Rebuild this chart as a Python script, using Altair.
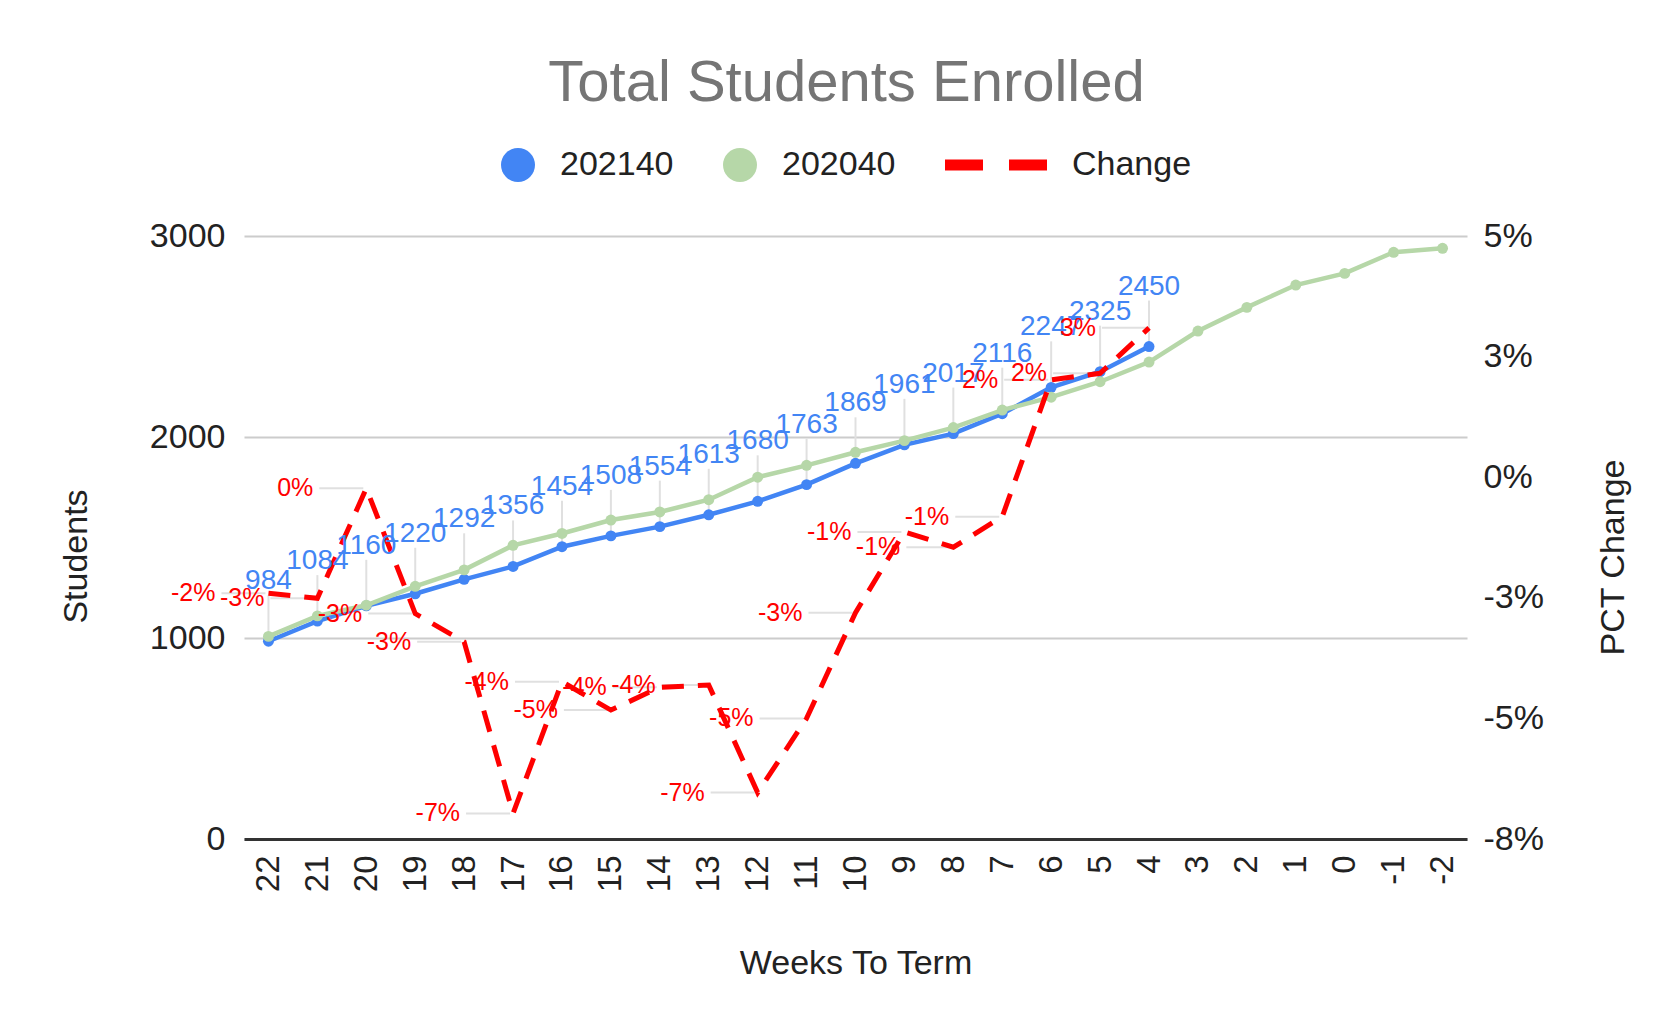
import altair as alt
import pandas as pd

FONT = "Arial, Liberation Sans, sans-serif"

weeks = ["22", "21", "20", "19", "18", "17", "16", "15", "14", "13", "12", "11", "10",
         "9", "8", "7", "6", "5", "4", "3", "2", "1", "0", "-1", "-2"]
students_202140 = [984, 1084, 1160, 1220, 1292, 1356, 1454, 1508, 1554, 1613, 1680,
                   1763, 1869, 1961, 2017, 2116, 2247, 2325, 2450]
students_202040 = [1008, 1110, 1163, 1257, 1339, 1461, 1520, 1587, 1627, 1688, 1800,
                   1859, 1924, 1982, 2047, 2134, 2198, 2275, 2373, 2527, 2645, 2756,
                   2814, 2919, 2939]
change_pct = [-2.40, -2.51, -0.14, -2.84, -3.45, -7.15, -4.31, -4.92, -4.43, -4.38,
              -6.70, -5.10, -2.82, -1.08, -1.41, -0.75, 2.20, 2.34, 3.32]
change_labels = ["-2%", "-3%", "0%", "-3%", "-3%", "-7%", "-4%", "-5%", "-4%", "-4%",
                 "-7%", "-5%", "-3%", "-1%", "-1%", "-1%", "2%", "2%", "3%"]
series_names = ["202140", "202040", "Change"]
series_colors = ["#4285F4", "#B6D7A8", "#FF0000"]
left_ticks = [0, 1000, 2000, 3000]
right_ticks = [-7.7, -5.1, -2.5, 0.1, 2.7, 5.3]
right_tick_labels = ["-8%", "-5%", "-3%", "0%", "3%", "5%"]

BLUE, GREEN, RED = series_colors
n_cur = len(students_202140)

cur = pd.DataFrame({"week": weeks[:n_cur], "students": students_202140,
                    "series": series_names[0],
                    "label": [str(v) for v in students_202140]})
prev = pd.DataFrame({"week": weeks, "students": students_202040,
                     "series": series_names[1]})
chg = pd.DataFrame({"week": weeks[:n_cur], "pct": change_pct,
                    "label": change_labels, "series": series_names[2]})

x_scale = alt.Scale(type="point", padding=0.5, domain=weeks)
yl_scale = alt.Scale(domain=[left_ticks[0], left_ticks[-1]], nice=False)
yr_scale = alt.Scale(domain=[right_ticks[0], right_ticks[-1]], nice=False, zero=False)

x_axis = alt.Axis(labelAngle=270, labelFontSize=33, labelColor="#222222", labelFont=FONT,
                  labelPadding=16, ticks=False, domain=True, domainColor="#333333",
                  domainWidth=3, grid=False, title="Weeks To Term", titleFont=FONT,
                  titleFontSize=34, titleFontWeight="normal", titleColor="#222222",
                  titlePadding=55)
left_axis = alt.Axis(values=left_ticks, format="d", grid=True, gridColor="#cccccc",
                     gridWidth=2, ticks=False, domain=False, labelFontSize=34,
                     labelColor="#222222", labelFont=FONT, labelPadding=19,
                     title="Students", titleFont=FONT, titleFontSize=34,
                     titleFontWeight="normal", titleColor="#222222", titleAngle=270,
                     titleX=-168, titleY=320, titleAlign="center", titleBaseline="middle")
step = round(right_ticks[1] - right_ticks[0], 4)
labels_js = "[" + ",".join(f"'{s}'" for s in right_tick_labels) + "]"
right_axis = alt.Axis(orient="right", values=right_ticks,
                      labelExpr=f"{labels_js}[round((datum.value - ({right_ticks[0]})) / {step})]",
                      grid=False, ticks=False, domain=False, labelFontSize=34,
                      labelColor="#222222", labelFont=FONT, labelPadding=16,
                      title="PCT Change", titleFont=FONT, titleFontSize=34,
                      titleFontWeight="normal", titleColor="#222222", titleAngle=270,
                      titleX=146, titleY=321, titleAlign="center", titleBaseline="middle")

X = alt.X("week:O", scale=x_scale, axis=x_axis)

legend = alt.Legend(orient="none", legendX=257, legendY=-88, direction="horizontal",
                    columns=3, title=None, symbolSize=1156, labelFontSize=34,
                    labelColor="#222222", labelFont=FONT, labelOffset=25,
                    columnPadding=49, padding=0, symbolStrokeWidth=0, symbolOpacity=1)
color_enc = alt.Color("series:N", scale=alt.Scale(domain=series_names, range=series_colors),
                      legend=legend)
dash_path = "M-5,-0.32H-2.765V0.32H-5Z M-1.235,-0.32H1V0.32H-1.235Z"
shape_enc = alt.Shape("series:N",
                      scale=alt.Scale(domain=series_names, range=["circle", "circle", dash_path]),
                      legend=legend)

Y_left = alt.Y("students:Q", scale=yl_scale, axis=None)
Y_right = alt.Y("pct:Q", scale=yr_scale, axis=None)

stems = alt.Chart(cur).mark_rule(color="#e0e0e0", strokeWidth=2, yOffset=-46).encode(
    x=X,
    y=alt.Y("students:Q", scale=yl_scale, axis=left_axis),
    y2="students:Q",
)
leaders = alt.Chart(chg).mark_rule(color="#e0e0e0", strokeWidth=2, xOffset=-47,
                                   x2Offset=-3).encode(
    x=X, x2="week:O",
    y=alt.Y("pct:Q", scale=yr_scale, axis=right_axis),
)
blue_line = alt.Chart(cur).mark_line(color=BLUE, strokeWidth=4.5).encode(x=X, y=Y_left)
blue_pts = alt.Chart(cur).mark_point(filled=True, size=120, opacity=1).encode(
    x=X, y=Y_left, color=color_enc, shape=shape_enc)
green_line = alt.Chart(prev).mark_line(color=GREEN, strokeWidth=4.5).encode(x=X, y=Y_left)
green_pts = alt.Chart(prev).mark_point(filled=True, size=120, opacity=1).encode(
    x=X, y=Y_left, color=color_enc, shape=shape_enc)
red_line = alt.Chart(chg).mark_line(color=RED, strokeWidth=5, strokeDash=[22, 14]).encode(
    x=X, y=Y_right)

blue_text = alt.Chart(cur).mark_text(color=BLUE, fontSize=28, font=FONT, dy=-52,
                                     baseline="alphabetic", align="center").encode(
    x=X, y=Y_left, text="label:N")
red_text = alt.Chart(chg).mark_text(color=RED, fontSize=25, font=FONT, dx=-53,
                                    align="right", baseline="middle").encode(
    x=X, y=Y_right, text="label:N")

chart = alt.layer(
    stems, leaders, blue_line, blue_pts, green_line, green_pts, red_line,
    blue_text, red_text
).resolve_scale(y="independent").properties(
    width=1223, height=603,
    title=alt.TitleParams("Total Students Enrolled", fontSize=58, color="#757575",
                          fontWeight="normal", font=FONT, anchor="middle", dx=-9, dy=-31),
    padding={"left": 236, "top": 228, "right": 180, "bottom": 175},
    autosize=alt.AutoSizeParams(type="none"),
    background="white",
).configure_view(stroke=None)

chart.save("out.html", embed_options={"renderer": "svg", "actions": False})
